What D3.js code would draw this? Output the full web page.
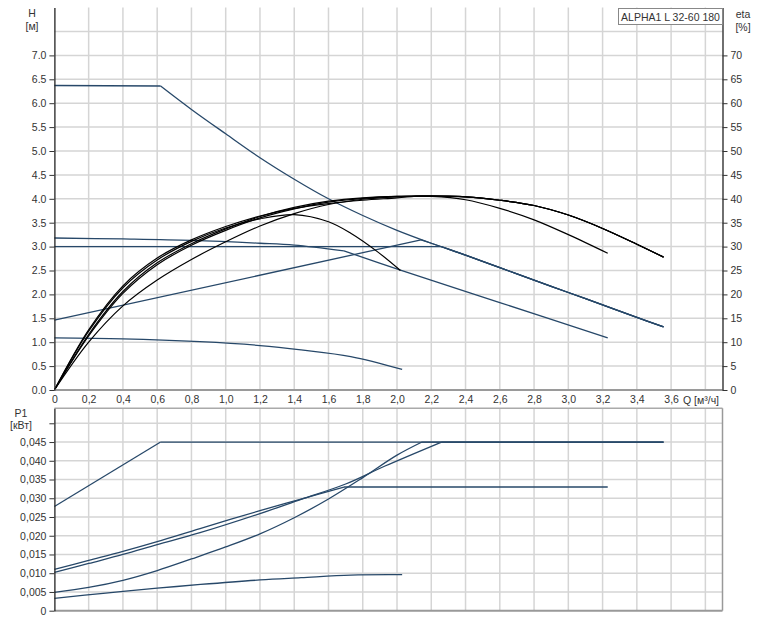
<!DOCTYPE html>
<html>
<head>
<meta charset="utf-8">
<script src="https://cdn.jsdelivr.net/npm/d3@7"></script>
<style>
  html, body { margin: 0; padding: 0; background: #fff; }
  svg { display: block; font-family: "Liberation Sans", Arial, sans-serif; }
</style>
</head>
<body>
<svg id="chart" width="776" height="620"></svg>
<script>
// ---------------- DATA ----------------
const title = "ALPHA1 L 32-60 180";
const qTicks = [0,0.2,0.4,0.6,0.8,1.0,1.2,1.4,1.6,1.8,2.0,2.2,2.4,2.6,2.8,3.0,3.2,3.4,3.6];
const qGrid = [0.2,0.4,0.6,0.8,1.0,1.2,1.4,1.6,1.8,2.0,2.2,2.4,2.6,2.8,3.0,3.2,3.4,3.6,3.8];
const hTicks = [0,0.5,1.0,1.5,2.0,2.5,3.0,3.5,4.0,4.5,5.0,5.5,6.0,6.5,7.0];
const hGrid = [0.5,1.0,1.5,2.0,2.5,3.0,3.5,4.0,4.5,5.0,5.5,6.0,6.5,7.0,7.5];
const etaTicks = [0,5,10,15,20,25,30,35,40,45,50,55,60,65,70];
const pTicks = [0,0.005,0.010,0.015,0.020,0.025,0.030,0.035,0.040,0.045,0.050];
const pLabelTicks = [0,0.005,0.010,0.015,0.020,0.025,0.030,0.035,0.040,0.045];

// Head H [m]
const hMaxQ = [0, 0.62, 0.8, 1.0, 1.2, 1.4, 1.6, 1.8, 2.0, 2.2, 2.4, 2.6, 2.8, 3.0, 3.2, 3.4, 3.556];
const hMax  = [6.37, 6.36, 5.87, 5.36, 4.86, 4.41, 4.00, 3.65, 3.34, 3.07, 2.82, 2.56, 2.30, 2.04, 1.78, 1.52, 1.32];
const hBQ = [0, 0.4, 0.8, 1.2, 1.4, 1.69, 2.02, 2.6, 3.23];
const hB  = [3.18, 3.16, 3.13, 3.07, 3.03, 2.91, 2.51, 1.83, 1.09];
const hConstQ = [0, 2.26];
const hConst  = [3.0, 3.0];
const hPropQ = [0, 2.14];
const hProp  = [1.46, 3.14];
const hLowQ = [0, 0.4, 0.85, 1.2, 1.44, 1.73, 2.03];
const hLow  = [1.09, 1.07, 1.01, 0.93, 0.84, 0.70, 0.43];

// Efficiency eta [%]
const etaMaxQ = [0, 0.2, 0.4, 0.6, 0.8, 1.0, 1.2, 1.4, 1.6, 1.8, 2.0, 2.2, 2.4, 2.6, 2.8, 3.0, 3.2, 3.4, 3.556];
const etaMax  = [0, 10.0, 17.6, 23.0, 27.3, 31.0, 34.3, 36.9, 38.8, 39.9, 40.4, 40.6, 40.4, 39.7, 38.6, 36.6, 33.8, 30.5, 27.8];
const etaBQ = [0, 0.2, 0.4, 0.6, 0.8, 1.0, 1.2, 1.4, 1.6, 1.8, 2.0, 2.2, 2.4, 2.6, 2.8, 3.0, 3.23];
const etaB  = [0, 11.3, 20.2, 26.2, 30.3, 33.4, 36.0, 37.9, 39.3, 40.1, 40.5, 40.5, 39.8, 38.0, 35.6, 32.5, 28.6];
const etaConstQ = [0, 0.2, 0.4, 0.6, 0.8, 1.0, 1.2, 1.4, 1.6, 1.8, 2.0, 2.26];
const etaConst  = [0, 11.6, 20.6, 26.6, 30.6, 33.7, 36.3, 38.2, 39.5, 40.2, 40.5, 40.5];
const etaPropQ = [0, 0.2, 0.4, 0.6, 0.8, 1.0, 1.2, 1.4, 1.6, 1.8, 2.0, 2.14];
const etaProp  = [0, 12.6, 21.8, 27.6, 31.4, 34.2, 36.4, 38.0, 39.0, 39.7, 40.2, 40.6];
const etaLowQ = [0, 0.2, 0.4, 0.6, 0.8, 1.0, 1.2, 1.4, 1.6, 1.73, 1.887, 2.02];
const etaLow  = [0, 12.3, 21.4, 27.2, 31.1, 33.9, 35.8, 36.7, 35.2, 32.8, 28.9, 25.0];

// Power P1 [kW]
const pMaxQ = [0, 0.62, 3.556];
const pMax  = [0.0278, 0.045, 0.045];
const pBQ = [0, 0.2, 0.4, 0.6, 0.85, 1.2, 1.44, 1.69, 3.23];
const pB  = [0.0110, 0.0134, 0.0158, 0.0184, 0.0219, 0.0267, 0.0298, 0.0330, 0.0330];
const pConstQ = [0, 0.2, 0.4, 0.6, 0.85, 1.2, 1.44, 1.7, 1.93, 2.26];
const pConst  = [0.0102, 0.0126, 0.0150, 0.0176, 0.0208, 0.0259, 0.0297, 0.0338, 0.0386, 0.045];
const pPropQ = [0, 0.2, 0.4, 0.6, 0.8, 1.0, 1.2, 1.4, 1.6, 1.8, 2.0, 2.146];
const pProp  = [0.0049, 0.0062, 0.0081, 0.0107, 0.0138, 0.0170, 0.0205, 0.0248, 0.0298, 0.0355, 0.0415, 0.0450];
const pLowQ = [0, 0.3, 0.6, 0.853, 1.2, 1.44, 1.73, 2.03];
const pLow  = [0.0033, 0.0047, 0.0060, 0.0070, 0.0082, 0.0088, 0.0095, 0.0096];

// ---------------- CHART ----------------
const svg = d3.select("#chart");
const BLUE = "#274869";
const GRID = "#d5d5d5";
const TXT = "#333";
const SMOOTH = d3.curveCatmullRom.alpha(0.5);
const FS = "10.5px";

const x = d3.scaleLinear().domain([0, 3.9]).range([54.4, 722.5]);
const yH = d3.scaleLinear().domain([0, 8]).range([390, 7.6]);
const yEta = d3.scaleLinear().domain([0, 80]).range([390, 7.6]);
const yP = d3.scaleLinear().domain([0, 0.054]).range([610.7, 408.3]);

const topY0 = yH(8), topY1 = yH(0);
const botY0 = yP(0.054), botY1 = yP(0);
const xL = x(0), xR = x(3.9);

// grids
const g = svg.append("g");
g.selectAll(".vgt").data(qGrid).join("line")
  .attr("x1", d => x(d)).attr("x2", d => x(d)).attr("y1", topY0).attr("y2", topY1)
  .attr("stroke", GRID).attr("stroke-width", 1.5);
g.selectAll(".hgt").data(hGrid).join("line")
  .attr("x1", xL).attr("x2", xR).attr("y1", d => yH(d)).attr("y2", d => yH(d))
  .attr("stroke", GRID).attr("stroke-width", 1.5);
const g2 = svg.append("g");
g2.selectAll("line.v").data(qGrid).join("line")
  .attr("x1", d => x(d)).attr("x2", d => x(d)).attr("y1", botY0).attr("y2", botY1)
  .attr("stroke", GRID).attr("stroke-width", 1.5);
const g3 = svg.append("g");
g3.selectAll("line.h").data(pTicks.filter(d => d > 0)).join("line")
  .attr("x1", xL).attr("x2", xR).attr("y1", d => yP(d)).attr("y2", d => yP(d))
  .attr("stroke", GRID).attr("stroke-width", 1.5);

// helpers
function pts(q, v) { return q.map((d, i) => [d, v[i]]); }
function withMerge(q, v, mq, mv) {
  const last = q[q.length - 1];
  const own = pts(q, v);
  const rest = pts(mq, mv).filter(p => p[0] > last + 1e-9);
  return [own, [own[own.length - 1]].concat(rest)];
}
function mergedSmooth(q, v, mq, mv) {
  const last = q[q.length - 1];
  return pts(q, v).concat(pts(mq, mv).filter(p => p[0] > last + 1e-9));
}
function splitAt(points, idxs) {
  const segs = []; let start = 0;
  idxs.forEach(k => { segs.push(points.slice(start, k + 1)); start = k; });
  segs.push(points.slice(start));
  return segs;
}
function drawSegs(segs, yS, color, width, curve) {
  const line = d3.line().x(d => x(d[0])).y(d => yS(d[1])).curve(curve || SMOOTH);
  segs.forEach(s => {
    if (s.length < 2) return;
    svg.append("path").attr("d", line(s)).attr("fill", "none")
      .attr("stroke", color).attr("stroke-width", width)
      .attr("stroke-linejoin", "round").attr("stroke-linecap", "butt");
  });
}

// Head curves
drawSegs(splitAt(pts(hMaxQ, hMax), [1]), yH, BLUE, 1.3);
drawSegs(splitAt(pts(hBQ, hB), [5]), yH, BLUE, 1.3);
drawSegs(withMerge(hConstQ, hConst, hMaxQ, hMax), yH, BLUE, 1.3);
drawSegs(withMerge(hPropQ, hProp, hMaxQ, hMax), yH, BLUE, 1.3);
drawSegs([pts(hLowQ, hLow)], yH, BLUE, 1.3);

// Efficiency curves
drawSegs([pts(etaMaxQ, etaMax)], yEta, "#000", 1.2);
drawSegs([pts(etaBQ, etaB)], yEta, "#000", 1.2);
drawSegs([mergedSmooth(etaConstQ, etaConst, etaMaxQ, etaMax)], yEta, "#000", 1.2);
drawSegs([mergedSmooth(etaPropQ, etaProp, etaMaxQ, etaMax)], yEta, "#000", 1.2);
drawSegs([pts(etaLowQ, etaLow)], yEta, "#000", 1.2);

// Power curves
drawSegs(splitAt(pts(pMaxQ, pMax), [1]), yP, BLUE, 1.3, d3.curveLinear);
drawSegs(splitAt(pts(pBQ, pB), [7]), yP, BLUE, 1.3);
drawSegs(withMerge(pConstQ, pConst, pMaxQ, pMax), yP, BLUE, 1.3);
drawSegs(withMerge(pPropQ, pProp, pMaxQ, pMax), yP, BLUE, 1.3);
drawSegs([pts(pLowQ, pLow)], yP, BLUE, 1.3);

// Axes
function styleAxis(sel, domainColor, domainWidth) {
  sel.selectAll("text").attr("fill", TXT).style("font-size", FS)
    .style("font-family", '"Liberation Sans", Arial, sans-serif');
  sel.selectAll(".tick line").attr("stroke", "#333");
  sel.select(".domain").attr("stroke", domainColor).attr("stroke-width", domainWidth);
}
const commaFmt = (f) => d => d === 0 ? "0" : d3.format(f)(d).replace(".", ",");

const ax = svg.append("g").attr("transform", `translate(0,${topY1})`)
  .call(d3.axisBottom(x).tickValues(qTicks).tickFormat(commaFmt(".1f")).tickSize(0).tickPadding(6).tickSizeOuter(0));
ax.select(".domain").attr("d", `M${xL},0H${xR}`);
styleAxis(ax, "#9a9a9a", 2);

const ayL = svg.append("g").attr("transform", `translate(${xL},0)`)
  .call(d3.axisLeft(yH).tickValues(hTicks).tickFormat(d3.format(".1f")).tickSize(5).tickPadding(3).tickSizeOuter(0));
styleAxis(ayL, "#222", 1.3);

const ayR = svg.append("g").attr("transform", `translate(${xR},0)`)
  .call(d3.axisRight(yEta).tickValues(etaTicks).tickFormat(d3.format("d")).tickSize(5).tickPadding(3).tickSizeOuter(0));
styleAxis(ayR, "#222", 1.3);

// bottom-plot frame
svg.append("line").attr("x1", xL).attr("x2", xR).attr("y1", botY0).attr("y2", botY0).attr("stroke", "#aaa").attr("stroke-width", 1.5);
svg.append("line").attr("x1", xR).attr("x2", xR).attr("y1", botY0).attr("y2", botY1).attr("stroke", "#999").attr("stroke-width", 1.5);
svg.append("line").attr("x1", xL).attr("x2", xR).attr("y1", botY1).attr("y2", botY1).attr("stroke", "#999").attr("stroke-width", 2);

const ap = svg.append("g").attr("transform", `translate(${xL},0)`)
  .call(d3.axisLeft(yP).tickValues(pTicks)
    .tickFormat(d => pLabelTicks.some(t => Math.abs(t - d) < 1e-9) ? commaFmt(".3f")(d) : "")
    .tickSize(5).tickPadding(3).tickSizeOuter(0));
styleAxis(ap, "#222", 1.3);

// Axis titles
function txt(t, xx, yy, anchor) {
  svg.append("text").attr("x", xx).attr("y", yy).attr("text-anchor", anchor || "middle")
    .attr("fill", TXT).style("font-size", FS).text(t);
}
txt("H", 32, 17);
txt("[м]", 32, 30);
txt("eta", 743, 18);
txt("[%]", 743, 31);
txt("P1", 21, 417);
txt("[кВт]", 21, 429);
txt("Q [м³/ч]", 683, 404, "start");

// Legend box
const lg = svg.append("g");
lg.append("rect").attr("x", 618.5).attr("y", 8.5).attr("width", 104).attr("height", 16)
  .attr("fill", "#fff").attr("stroke", "#888").attr("stroke-width", 1);
lg.append("text").attr("x", 670.5).attr("y", 20.5).attr("text-anchor", "middle")
  .attr("fill", TXT).style("font-size", FS).text(title);
</script>
</body>
</html>
